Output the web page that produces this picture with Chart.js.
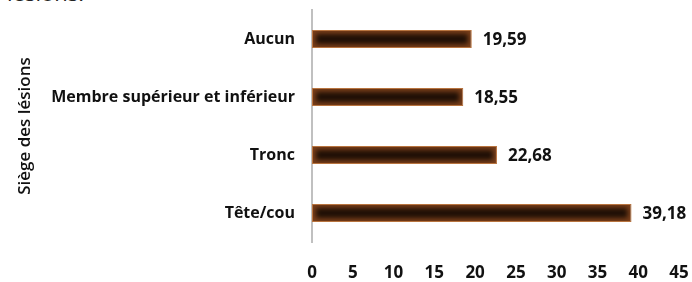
<!DOCTYPE html>
<html>
<head>
<meta charset="utf-8">
<script src="https://cdn.jsdelivr.net/npm/chart.js@4"></script>
<style>
  html, body { margin:0; padding:0; background:#fff; }
  #wrap { position:relative; width:692px; height:282px; overflow:hidden; }
  #top { position:absolute; left:7px; top:-19px; font-family:"Open Sans", sans-serif; font-size:22px; line-height:22px; color:#222; }
  canvas { position:absolute; left:0; top:0; }
</style>
</head>
<body>
<div id="wrap">
  <div id="top">lésions.</div>
  <canvas id="c" width="692" height="282"></canvas>
</div>
<script>
const categories = ["Aucun", "Membre supérieur et inférieur", "Tronc", "Tête/cou"];
const values = [19.59, 18.55, 22.68, 39.18];
const axisTitle = "Siège des lésions";
const xMin = 0, xMax = 45, xStep = 5;

const FONT = "'Open Sans', sans-serif";

const barLook = {
  id: 'barLook',
  afterDatasetsDraw(chart) {
    const ctx = chart.ctx;
    const meta = chart.getDatasetMeta(0);
    meta.data.forEach((bar, i) => {
      const p = bar.getProps(['x','y','base','height'], true);
      const left = Math.min(p.base, p.x), right = Math.max(p.base, p.x);
      const top = p.y - p.height/2, h = p.height;
      ctx.save();
      ctx.beginPath();
      ctx.rect(left+1, top+1, right-left-2, h-2);
      ctx.clip();
      ctx.filter = 'blur(2.5px)';
      ctx.fillStyle = '#1e0f05';
      ctx.fillRect(left+4, top+4, right-left-8, h-8);
      ctx.restore();
      ctx.save();
      ctx.font = "bold 17px " + FONT;
      ctx.fillStyle = '#111';
      ctx.textAlign = 'left';
      ctx.textBaseline = 'middle';
      ctx.fillText(values[i].toFixed(2).replace('.', ','), right + 11, p.y + 1);
      ctx.restore();
    });
  }
};

new Chart(document.getElementById('c'), {
  type: 'bar',
  data: {
    labels: categories,
    datasets: [{
      data: values,
      backgroundColor: '#7a3f1a',
      borderColor: '#b8743f',
      borderWidth: 1,
      borderSkipped: false,
      categoryPercentage: 1,
      barPercentage: 0.31
    }]
  },
  options: {
    indexAxis: 'y',
    responsive: false,
    animation: false,
    devicePixelRatio: 1,
    layout: { padding: { top: 10, right: 13, left: 0, bottom: 0 } },
    plugins: { legend: { display: false }, tooltip: { enabled: false } },
    scales: {
      x: {
        min: xMin, max: xMax,
        grid: { display: false, drawTicks: false },
        border: { display: false },
        ticks: { stepSize: xStep, padding: 21, color: '#111', font: { family: FONT, size: 17, weight: 'bold' } },
        afterFit(s) { s.height = 40; s.paddingLeft = 0; s.paddingRight = 0; }
      },
      y: {
        grid: { display: false, drawTicks: false },
        border: { display: true, color: '#c0c0c0', width: 2 },
        ticks: { padding: 17, color: '#111', font: { family: FONT, size: 16, weight: 'bold' } },
        title: { display: true, text: axisTitle, color: '#111', padding: { top: 15, bottom: 0 }, font: { family: FONT, size: 17, weight: '600' } },
        afterFit(s) { s.width = 312; s.paddingTop = 0; s.paddingBottom = 0; }
      }
    }
  },
  plugins: [barLook]
});
</script>
</body>
</html>
